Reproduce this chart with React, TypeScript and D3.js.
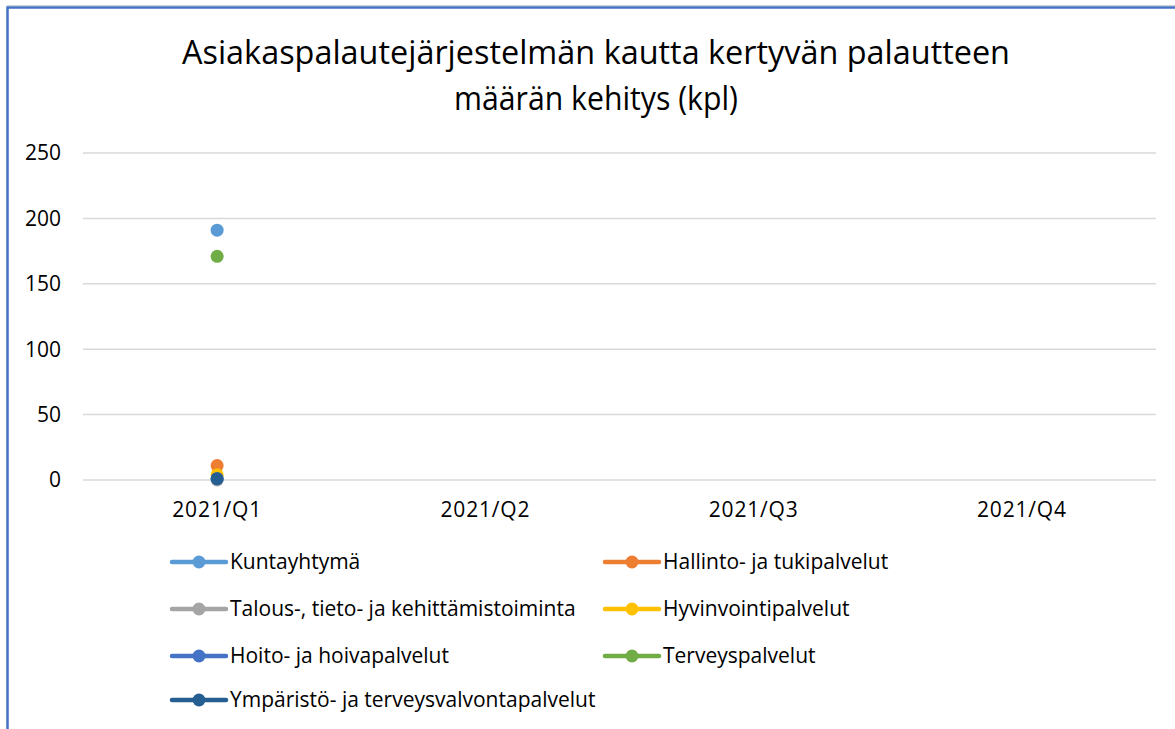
import React from "react";
import * as d3 from "d3";

const categories = ["2021/Q1", "2021/Q2", "2021/Q3", "2021/Q4"];
const yTicks = [0, 50, 100, 150, 200, 250];
const seriesNames = [
  "Kuntayhtymä",
  "Hallinto- ja tukipalvelut",
  "Talous-, tieto- ja kehittämistoiminta",
  "Hyvinvointipalvelut",
  "Hoito- ja hoivapalvelut",
  "Terveyspalvelut",
  "Ympäristö- ja terveysvalvontapalvelut",
];
const seriesColors = ["#5B9BD5", "#ED7D31", "#A5A5A5", "#FFC000", "#4472C4", "#70AD47", "#255E91"];
const kuntayhtyma = [191, null, null, null];
const hallinto = [11, null, null, null];
const talous = [0, null, null, null];
const hyvinvointi = [4, null, null, null];
const hoito = [1, null, null, null];
const terveys = [171, null, null, null];
const ymparisto = [1, null, null, null];
const seriesValues = [kuntayhtyma, hallinto, talous, hyvinvointi, hoito, terveys, ymparisto];
const titleLines = ["Asiakaspalautejärjestelmän kautta kertyvän palautteen", "määrän kehitys (kpl)"];

const FONT = "'Liberation Sans Narrow', 'Open Sans', sans-serif";
const FONT2 = "'Open Sans', 'Noto Sans', sans-serif";

export default function App() {
  const W = 1175, H = 729;
  const x = d3.scaleBand().domain(categories).range([83, 1156]);
  const y = d3.scaleLinear().domain([0, 250]).range([480, 153]);

  const legendCols = [170, 603];
  const legendRows = [562, 609, 656, 700];

  return (
    <svg width={W} height={H} style={{ position: "absolute", left: 0, top: 0, background: "#fff" }}>
      <rect x={0} y={0} width={W} height={H} fill="#fff" />
      <line x1={7} y1={5.5} x2={W} y2={5.5} stroke="#d0d0d0" strokeWidth={1} />
      <path d={`M7.5,${H + 5} L7.5,7.5 L${W + 5},7.5`} fill="none" stroke="#4472C4" strokeWidth={2.5} />
      {titleLines.map((t, i) => (
        <text key={i} x={596} y={64 + i * 46} textAnchor="middle" fontFamily={FONT} fontSize={33}
          fill="#000" textLength={i === 0 ? 828 : 284} lengthAdjust="spacingAndGlyphs">{t}</text>
      ))}
      {yTicks.map((t) => (
        <g key={t}>
          <line x1={83} x2={1156} y1={y(t)} y2={y(t)} stroke="#d9d9d9" strokeWidth={1.5} />
          <text x={61} y={y(t)} dy="0.35em" textAnchor="end" fontFamily={FONT2} fontSize={21} fill="#000">{t}</text>
        </g>
      ))}
      {categories.map((c) => (
        <text key={c} x={(x(c) as number) + x.bandwidth() / 2} y={510} dy="0.35em" textAnchor="middle"
          fontFamily={FONT2} fontSize={21} letterSpacing={0.8} fill="#000">{c}</text>
      ))}
      {seriesValues.map((vals, si) => (
        <g key={si}>
          {vals.map((v, ci) =>
            v === null ? null : (
              <circle key={ci} cx={(x(categories[ci]) as number) + x.bandwidth() / 2} cy={y(v)} r={6.5}
                fill={seriesColors[si]} />
            )
          )}
        </g>
      ))}
      {seriesNames.map((n, i) => {
        const lx = legendCols[i % 2];
        const ly = legendRows[Math.floor(i / 2)];
        return (
          <g key={n}>
            <line x1={lx + 2} x2={lx + 56} y1={ly} y2={ly} stroke={seriesColors[i]} strokeWidth={4.5} strokeLinecap="round" />
            <circle cx={lx + 29} cy={ly} r={6.5} fill={seriesColors[i]} />
            <text x={lx + 60} y={ly} dy="0.35em" fontFamily={FONT2} fontSize={21} fill="#000">{n}</text>
          </g>
        );
      })}
    </svg>
  );
}
